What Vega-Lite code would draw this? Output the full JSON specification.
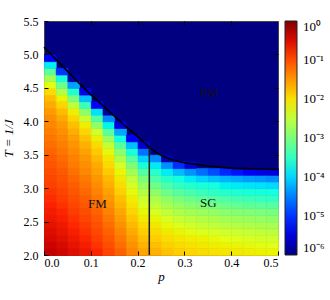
{
"$schema":"https://vega.github.io/schema/vega-lite/v6.json",
"width":234,"height":234,
"autosize":{"type":"none"},
"padding":{"left":44,"top":21,"right":52,"bottom":45},
"config":{"view":{"fill":"#000080","stroke":"#444","strokeWidth":1},"font":"Liberation Serif",
"axis":{"grid":false,"domain":false,"tickColor":"black","tickWidth":1,"labelColor":"black","labelFont":"Liberation Serif","labelFontSize":12,"titleFont":"Liberation Serif","titleFontSize":13,"titleFontStyle":"italic","titleFontWeight":"normal","titleColor":"black"}},
"layer":[
{"data":{"values":[
{"p":0,"t":2,"v":-0.36},{"p":0,"t":2.1,"v":-0.41},{"p":0,"t":2.2,"v":-0.47},{"p":0,"t":2.3,"v":-0.52},{"p":0,"t":2.4,"v":-0.57},{"p":0,"t":2.5,"v":-0.63},{"p":0,"t":2.6,"v":-0.68},{"p":0,"t":2.7,"v":-0.73},{"p":0,"t":2.8,"v":-0.79},{"p":0,"t":2.9,"v":-0.84},{"p":0,"t":3,"v":-0.9},{"p":0,"t":3.1,"v":-0.95},{"p":0,"t":3.2,"v":-1.0},{"p":0,"t":3.3,"v":-1.06},{"p":0,"t":3.4,"v":-1.11},{"p":0,"t":3.5,"v":-1.17},{"p":0,"t":3.6,"v":-1.22},{"p":0,"t":3.7,"v":-1.27},{"p":0,"t":3.8,"v":-1.33},{"p":0,"t":3.9,"v":-1.38},{"p":0,"t":4,"v":-1.43},{"p":0,"t":4.1,"v":-1.52},{"p":0,"t":4.2,"v":-1.62},{"p":0,"t":4.3,"v":-1.74},{"p":0,"t":4.4,"v":-1.94},{"p":0,"t":4.5,"v":-2.23},{"p":0,"t":4.6,"v":-2.7},{"p":0,"t":4.7,"v":-3.21},{"p":0,"t":4.8,"v":-3.86},{"p":0,"t":4.9,"v":-5.3},
{"p":0.025,"t":2,"v":-0.43},{"p":0.025,"t":2.1,"v":-0.48},{"p":0.025,"t":2.2,"v":-0.54},{"p":0.025,"t":2.3,"v":-0.6},{"p":0.025,"t":2.4,"v":-0.65},{"p":0.025,"t":2.5,"v":-0.71},{"p":0.025,"t":2.6,"v":-0.76},{"p":0.025,"t":2.7,"v":-0.82},{"p":0.025,"t":2.8,"v":-0.88},{"p":0.025,"t":2.9,"v":-0.93},{"p":0.025,"t":3,"v":-0.99},{"p":0.025,"t":3.1,"v":-1.04},{"p":0.025,"t":3.2,"v":-1.1},{"p":0.025,"t":3.3,"v":-1.16},{"p":0.025,"t":3.4,"v":-1.21},{"p":0.025,"t":3.5,"v":-1.27},{"p":0.025,"t":3.6,"v":-1.32},{"p":0.025,"t":3.7,"v":-1.38},{"p":0.025,"t":3.8,"v":-1.44},{"p":0.025,"t":3.9,"v":-1.51},{"p":0.025,"t":4,"v":-1.61},{"p":0.025,"t":4.1,"v":-1.73},{"p":0.025,"t":4.2,"v":-1.9},{"p":0.025,"t":4.3,"v":-2.16},{"p":0.025,"t":4.4,"v":-2.62},{"p":0.025,"t":4.5,"v":-3.09},{"p":0.025,"t":4.6,"v":-3.72},{"p":0.025,"t":4.7,"v":-5.0},
{"p":0.05,"t":2,"v":-0.53},{"p":0.05,"t":2.1,"v":-0.59},{"p":0.05,"t":2.2,"v":-0.65},{"p":0.05,"t":2.3,"v":-0.71},{"p":0.05,"t":2.4,"v":-0.77},{"p":0.05,"t":2.5,"v":-0.82},{"p":0.05,"t":2.6,"v":-0.88},{"p":0.05,"t":2.7,"v":-0.94},{"p":0.05,"t":2.8,"v":-1.0},{"p":0.05,"t":2.9,"v":-1.06},{"p":0.05,"t":3,"v":-1.12},{"p":0.05,"t":3.1,"v":-1.18},{"p":0.05,"t":3.2,"v":-1.24},{"p":0.05,"t":3.3,"v":-1.3},{"p":0.05,"t":3.4,"v":-1.35},{"p":0.05,"t":3.5,"v":-1.41},{"p":0.05,"t":3.6,"v":-1.47},{"p":0.05,"t":3.7,"v":-1.55},{"p":0.05,"t":3.8,"v":-1.64},{"p":0.05,"t":3.9,"v":-1.75},{"p":0.05,"t":4,"v":-1.9},{"p":0.05,"t":4.1,"v":-2.11},{"p":0.05,"t":4.2,"v":-2.53},{"p":0.05,"t":4.3,"v":-2.99},{"p":0.05,"t":4.4,"v":-3.6},{"p":0.05,"t":4.5,"v":-4.32},{"p":0.05,"t":4.6,"v":-5.8},
{"p":0.075,"t":2,"v":-0.63},{"p":0.075,"t":2.1,"v":-0.69},{"p":0.075,"t":2.2,"v":-0.76},{"p":0.075,"t":2.3,"v":-0.82},{"p":0.075,"t":2.4,"v":-0.88},{"p":0.075,"t":2.5,"v":-0.94},{"p":0.075,"t":2.6,"v":-1.0},{"p":0.075,"t":2.7,"v":-1.07},{"p":0.075,"t":2.8,"v":-1.13},{"p":0.075,"t":2.9,"v":-1.19},{"p":0.075,"t":3,"v":-1.25},{"p":0.075,"t":3.1,"v":-1.31},{"p":0.075,"t":3.2,"v":-1.38},{"p":0.075,"t":3.3,"v":-1.44},{"p":0.075,"t":3.4,"v":-1.5},{"p":0.075,"t":3.5,"v":-1.56},{"p":0.075,"t":3.6,"v":-1.66},{"p":0.075,"t":3.7,"v":-1.77},{"p":0.075,"t":3.8,"v":-1.9},{"p":0.075,"t":3.9,"v":-2.09},{"p":0.075,"t":4,"v":-2.43},{"p":0.075,"t":4.1,"v":-2.85},{"p":0.075,"t":4.2,"v":-3.45},{"p":0.075,"t":4.3,"v":-4.12},{"p":0.075,"t":4.4,"v":-5.42},
{"p":0.1,"t":2,"v":-0.76},{"p":0.1,"t":2.1,"v":-0.83},{"p":0.1,"t":2.2,"v":-0.9},{"p":0.1,"t":2.3,"v":-0.96},{"p":0.1,"t":2.4,"v":-1.03},{"p":0.1,"t":2.5,"v":-1.1},{"p":0.1,"t":2.6,"v":-1.16},{"p":0.1,"t":2.7,"v":-1.23},{"p":0.1,"t":2.8,"v":-1.29},{"p":0.1,"t":2.9,"v":-1.36},{"p":0.1,"t":3,"v":-1.42},{"p":0.1,"t":3.1,"v":-1.49},{"p":0.1,"t":3.2,"v":-1.56},{"p":0.1,"t":3.3,"v":-1.62},{"p":0.1,"t":3.4,"v":-1.72},{"p":0.1,"t":3.5,"v":-1.83},{"p":0.1,"t":3.6,"v":-1.94},{"p":0.1,"t":3.7,"v":-2.12},{"p":0.1,"t":3.8,"v":-2.39},{"p":0.1,"t":3.9,"v":-2.83},{"p":0.1,"t":4,"v":-3.28},{"p":0.1,"t":4.1,"v":-3.93},{"p":0.1,"t":4.2,"v":-5.3},
{"p":0.125,"t":2,"v":-0.94},{"p":0.125,"t":2.1,"v":-1.01},{"p":0.125,"t":2.2,"v":-1.08},{"p":0.125,"t":2.3,"v":-1.15},{"p":0.125,"t":2.4,"v":-1.22},{"p":0.125,"t":2.5,"v":-1.29},{"p":0.125,"t":2.6,"v":-1.36},{"p":0.125,"t":2.7,"v":-1.43},{"p":0.125,"t":2.8,"v":-1.5},{"p":0.125,"t":2.9,"v":-1.57},{"p":0.125,"t":3,"v":-1.65},{"p":0.125,"t":3.1,"v":-1.72},{"p":0.125,"t":3.2,"v":-1.83},{"p":0.125,"t":3.3,"v":-1.93},{"p":0.125,"t":3.4,"v":-2.04},{"p":0.125,"t":3.5,"v":-2.2},{"p":0.125,"t":3.6,"v":-2.47},{"p":0.125,"t":3.7,"v":-2.8},{"p":0.125,"t":3.8,"v":-3.24},{"p":0.125,"t":3.9,"v":-3.8},{"p":0.125,"t":4,"v":-4.46},{"p":0.125,"t":4.1,"v":-5.86},
{"p":0.15,"t":2,"v":-1.14},{"p":0.15,"t":2.1,"v":-1.22},{"p":0.15,"t":2.2,"v":-1.29},{"p":0.15,"t":2.3,"v":-1.37},{"p":0.15,"t":2.4,"v":-1.45},{"p":0.15,"t":2.5,"v":-1.52},{"p":0.15,"t":2.6,"v":-1.6},{"p":0.15,"t":2.7,"v":-1.68},{"p":0.15,"t":2.8,"v":-1.75},{"p":0.15,"t":2.9,"v":-1.86},{"p":0.15,"t":3,"v":-1.96},{"p":0.15,"t":3.1,"v":-2.06},{"p":0.15,"t":3.2,"v":-2.18},{"p":0.15,"t":3.3,"v":-2.34},{"p":0.15,"t":3.4,"v":-2.61},{"p":0.15,"t":3.5,"v":-2.88},{"p":0.15,"t":3.6,"v":-3.26},{"p":0.15,"t":3.7,"v":-3.74},{"p":0.15,"t":3.8,"v":-4.28},{"p":0.15,"t":3.9,"v":-5.5},
{"p":0.175,"t":2,"v":-1.37},{"p":0.175,"t":2.1,"v":-1.46},{"p":0.175,"t":2.2,"v":-1.54},{"p":0.175,"t":2.3,"v":-1.62},{"p":0.175,"t":2.4,"v":-1.71},{"p":0.175,"t":2.5,"v":-1.79},{"p":0.175,"t":2.6,"v":-1.9},{"p":0.175,"t":2.7,"v":-2.0},{"p":0.175,"t":2.8,"v":-2.1},{"p":0.175,"t":2.9,"v":-2.21},{"p":0.175,"t":3,"v":-2.33},{"p":0.175,"t":3.1,"v":-2.49},{"p":0.175,"t":3.2,"v":-2.71},{"p":0.175,"t":3.3,"v":-2.96},{"p":0.175,"t":3.4,"v":-3.26},{"p":0.175,"t":3.5,"v":-3.67},{"p":0.175,"t":3.6,"v":-4.14},{"p":0.175,"t":3.7,"v":-5.3},
{"p":0.2,"t":2,"v":-1.58},{"p":0.2,"t":2.1,"v":-1.67},{"p":0.2,"t":2.2,"v":-1.76},{"p":0.2,"t":2.3,"v":-1.85},{"p":0.2,"t":2.4,"v":-1.95},{"p":0.2,"t":2.5,"v":-2.07},{"p":0.2,"t":2.6,"v":-2.18},{"p":0.2,"t":2.7,"v":-2.3},{"p":0.2,"t":2.8,"v":-2.42},{"p":0.2,"t":2.9,"v":-2.58},{"p":0.2,"t":3,"v":-2.79},{"p":0.2,"t":3.1,"v":-3.0},{"p":0.2,"t":3.2,"v":-3.27},{"p":0.2,"t":3.3,"v":-3.65},{"p":0.2,"t":3.4,"v":-4.02},{"p":0.2,"t":3.5,"v":-4.59},{"p":0.2,"t":3.6,"v":-5.58},
{"p":0.225,"t":2,"v":-1.66},{"p":0.225,"t":2.1,"v":-1.75},{"p":0.225,"t":2.2,"v":-1.84},{"p":0.225,"t":2.3,"v":-1.94},{"p":0.225,"t":2.4,"v":-2.04},{"p":0.225,"t":2.5,"v":-2.17},{"p":0.225,"t":2.6,"v":-2.32},{"p":0.225,"t":2.7,"v":-2.49},{"p":0.225,"t":2.8,"v":-2.66},{"p":0.225,"t":2.9,"v":-2.86},{"p":0.225,"t":3,"v":-3.09},{"p":0.225,"t":3.1,"v":-3.34},{"p":0.225,"t":3.2,"v":-3.56},{"p":0.225,"t":3.3,"v":-3.87},{"p":0.225,"t":3.4,"v":-4.44},
{"p":0.25,"t":2,"v":-1.77},{"p":0.25,"t":2.1,"v":-1.86},{"p":0.25,"t":2.2,"v":-1.96},{"p":0.25,"t":2.3,"v":-2.06},{"p":0.25,"t":2.4,"v":-2.19},{"p":0.25,"t":2.5,"v":-2.33},{"p":0.25,"t":2.6,"v":-2.5},{"p":0.25,"t":2.7,"v":-2.67},{"p":0.25,"t":2.8,"v":-2.86},{"p":0.25,"t":2.9,"v":-3.1},{"p":0.25,"t":3,"v":-3.35},{"p":0.25,"t":3.1,"v":-3.57},{"p":0.25,"t":3.2,"v":-3.86},{"p":0.25,"t":3.3,"v":-4.43},{"p":0.25,"t":3.4,"v":-5.76},
{"p":0.275,"t":2,"v":-1.85},{"p":0.275,"t":2.1,"v":-1.94},{"p":0.275,"t":2.2,"v":-2.04},{"p":0.275,"t":2.3,"v":-2.16},{"p":0.275,"t":2.4,"v":-2.29},{"p":0.275,"t":2.5,"v":-2.46},{"p":0.275,"t":2.6,"v":-2.62},{"p":0.275,"t":2.7,"v":-2.79},{"p":0.275,"t":2.8,"v":-3.02},{"p":0.275,"t":2.9,"v":-3.26},{"p":0.275,"t":3,"v":-3.5},{"p":0.275,"t":3.1,"v":-3.74},{"p":0.275,"t":3.2,"v":-4.14},{"p":0.275,"t":3.3,"v":-5.06},
{"p":0.3,"t":2,"v":-1.9},{"p":0.3,"t":2.1,"v":-1.99},{"p":0.3,"t":2.2,"v":-2.09},{"p":0.3,"t":2.3,"v":-2.22},{"p":0.3,"t":2.4,"v":-2.36},{"p":0.3,"t":2.5,"v":-2.53},{"p":0.3,"t":2.6,"v":-2.7},{"p":0.3,"t":2.7,"v":-2.89},{"p":0.3,"t":2.8,"v":-3.12},{"p":0.3,"t":2.9,"v":-3.37},{"p":0.3,"t":3,"v":-3.59},{"p":0.3,"t":3.1,"v":-3.87},{"p":0.3,"t":3.2,"v":-4.39},{"p":0.3,"t":3.3,"v":-5.57},
{"p":0.325,"t":2,"v":-1.95},{"p":0.325,"t":2.1,"v":-2.05},{"p":0.325,"t":2.2,"v":-2.15},{"p":0.325,"t":2.3,"v":-2.28},{"p":0.325,"t":2.4,"v":-2.44},{"p":0.325,"t":2.5,"v":-2.6},{"p":0.325,"t":2.6,"v":-2.77},{"p":0.325,"t":2.7,"v":-2.97},{"p":0.325,"t":2.8,"v":-3.21},{"p":0.325,"t":2.9,"v":-3.46},{"p":0.325,"t":3,"v":-3.68},{"p":0.325,"t":3.1,"v":-4.01},{"p":0.325,"t":3.2,"v":-4.62},
{"p":0.35,"t":2,"v":-1.99},{"p":0.35,"t":2.1,"v":-2.09},{"p":0.35,"t":2.2,"v":-2.2},{"p":0.35,"t":2.3,"v":-2.33},{"p":0.35,"t":2.4,"v":-2.49},{"p":0.35,"t":2.5,"v":-2.66},{"p":0.35,"t":2.6,"v":-2.82},{"p":0.35,"t":2.7,"v":-3.04},{"p":0.35,"t":2.8,"v":-3.28},{"p":0.35,"t":2.9,"v":-3.52},{"p":0.35,"t":3,"v":-3.75},{"p":0.35,"t":3.1,"v":-4.11},{"p":0.35,"t":3.2,"v":-4.83},
{"p":0.375,"t":2,"v":-2.03},{"p":0.375,"t":2.1,"v":-2.13},{"p":0.375,"t":2.2,"v":-2.25},{"p":0.375,"t":2.3,"v":-2.38},{"p":0.375,"t":2.4,"v":-2.54},{"p":0.375,"t":2.5,"v":-2.71},{"p":0.375,"t":2.6,"v":-2.88},{"p":0.375,"t":2.7,"v":-3.1},{"p":0.375,"t":2.8,"v":-3.34},{"p":0.375,"t":2.9,"v":-3.59},{"p":0.375,"t":3,"v":-3.82},{"p":0.375,"t":3.1,"v":-4.21},{"p":0.375,"t":3.2,"v":-5.09},
{"p":0.4,"t":2,"v":-2.06},{"p":0.4,"t":2.1,"v":-2.16},{"p":0.4,"t":2.2,"v":-2.28},{"p":0.4,"t":2.3,"v":-2.41},{"p":0.4,"t":2.4,"v":-2.58},{"p":0.4,"t":2.5,"v":-2.74},{"p":0.4,"t":2.6,"v":-2.91},{"p":0.4,"t":2.7,"v":-3.15},{"p":0.4,"t":2.8,"v":-3.39},{"p":0.4,"t":2.9,"v":-3.62},{"p":0.4,"t":3,"v":-3.87},{"p":0.4,"t":3.1,"v":-4.27},{"p":0.4,"t":3.2,"v":-5.2},
{"p":0.425,"t":2,"v":-2.1},{"p":0.425,"t":2.1,"v":-2.2},{"p":0.425,"t":2.2,"v":-2.32},{"p":0.425,"t":2.3,"v":-2.45},{"p":0.425,"t":2.4,"v":-2.62},{"p":0.425,"t":2.5,"v":-2.78},{"p":0.425,"t":2.6,"v":-2.95},{"p":0.425,"t":2.7,"v":-3.19},{"p":0.425,"t":2.8,"v":-3.44},{"p":0.425,"t":2.9,"v":-3.66},{"p":0.425,"t":3,"v":-3.91},{"p":0.425,"t":3.1,"v":-4.34},{"p":0.425,"t":3.2,"v":-5.31},
{"p":0.45,"t":2,"v":-2.12},{"p":0.45,"t":2.1,"v":-2.23},{"p":0.45,"t":2.2,"v":-2.35},{"p":0.45,"t":2.3,"v":-2.48},{"p":0.45,"t":2.4,"v":-2.65},{"p":0.45,"t":2.5,"v":-2.81},{"p":0.45,"t":2.6,"v":-2.98},{"p":0.45,"t":2.7,"v":-3.22},{"p":0.45,"t":2.8,"v":-3.47},{"p":0.45,"t":2.9,"v":-3.69},{"p":0.45,"t":3,"v":-3.94},{"p":0.45,"t":3.1,"v":-4.38},{"p":0.45,"t":3.2,"v":-5.41},
{"p":0.475,"t":2,"v":-2.16},{"p":0.475,"t":2.1,"v":-2.26},{"p":0.475,"t":2.2,"v":-2.38},{"p":0.475,"t":2.3,"v":-2.52},{"p":0.475,"t":2.4,"v":-2.69},{"p":0.475,"t":2.5,"v":-2.85},{"p":0.475,"t":2.6,"v":-3.02},{"p":0.475,"t":2.7,"v":-3.26},{"p":0.475,"t":2.8,"v":-3.51},{"p":0.475,"t":2.9,"v":-3.73},{"p":0.475,"t":3,"v":-3.98},{"p":0.475,"t":3.1,"v":-4.44},{"p":0.475,"t":3.2,"v":-5.49}
]},
"mark":{"type":"rect","binSpacing":0,"stroke":{"expr":"scale('color', datum.v)"},"strokeWidth":0.7},
"encoding":{
"x":{"field":"p","type":"quantitative","bin":{"binned":true,"step":0.025},"scale":{"domain":[0,0.5],"nice":false,"zero":false},"axis":{"values":[0,0.1,0.2,0.3,0.4,0.5],"format":".1f","title":"p","tickSize":-4,"labelPadding":6,"titlePadding":2}},
"y":{"field":"t","type":"quantitative","bin":{"binned":true,"step":0.1},"scale":{"domain":[2,5.5],"nice":false,"zero":false},"axis":{"values":[2,2.5,3,3.5,4,4.5,5,5.5],"format":".1f","title":"T = 1/J","tickSize":-4,"labelPadding":10,"titlePadding":8}},
"color":{"field":"v","type":"quantitative","scale":{"type":"linear","domain":[-6,0],"range":["#000080","#0000C8","#0000FF","#0040FF","#0080FF","#00BFFF","#15FFE2","#48FFAF","#7BFF7B","#AFFF48","#E2FF15","#FFD200","#FF9700","#FF5C00","#FF2100","#C80000","#800000"]},
"legend":{"title":null,"orient":"right","offset":6,"type":"gradient","direction":"vertical","gradientLength":234,"gradientThickness":12,"gradientStrokeColor":"#222","gradientStrokeWidth":1,"values":[0,-1,-2,-3,-4,-5,-6],"labelExpr":"datum.value == 0 ? '10⁰' : '10⁻' + ['','¹','²','³','⁴','⁵','⁶'][-datum.value]","labelFont":"Liberation Serif","labelFontSize":13,"labelColor":"black","labelOffset":6,"labelOverlap":false}}
}},
{"data":{"values":[
{"p":0,"t":5.11},{"p":0.025,"t":4.93},{"p":0.05,"t":4.75},{"p":0.075,"t":4.57},{"p":0.1,"t":4.4},{"p":0.125,"t":4.24},{"p":0.15,"t":4.08},{"p":0.175,"t":3.92},{"p":0.2,"t":3.77},{"p":0.225,"t":3.61},{"p":0.25,"t":3.49},{"p":0.275,"t":3.42},{"p":0.3,"t":3.38},{"p":0.325,"t":3.355},{"p":0.35,"t":3.33},{"p":0.375,"t":3.315},{"p":0.4,"t":3.3},{"p":0.45,"t":3.29},{"p":0.5,"t":3.28}
]},
"mark":{"type":"line","color":"black","strokeWidth":1.6,"interpolate":"monotone"},
"encoding":{"x":{"field":"p","type":"quantitative","axis":null},"y":{"field":"t","type":"quantitative","axis":null}}},
{"data":{"values":[{"p":0.225,"t":2,"t2":3.61}]},
"mark":{"type":"rule","color":"#1a1a1a","strokeWidth":1.5},
"encoding":{"x":{"field":"p","type":"quantitative","axis":null},"y":{"field":"t","type":"quantitative","axis":null},"y2":{"field":"t2"}}},
{"data":{"values":[{"p":0.352,"t":4.43,"label":"PM"},{"p":0.114,"t":2.77,"label":"FM"},{"p":0.351,"t":2.78,"label":"SG"}]},
"mark":{"type":"text","font":"Liberation Serif","fontSize":13,"color":"#111"},
"encoding":{
"x":{"field":"p","type":"quantitative","axis":{"orient":"top","labels":false,"title":null,"values":[0.1,0.2,0.3,0.4],"tickSize":-4}},
"y":{"field":"t","type":"quantitative","axis":{"orient":"right","labels":false,"title":null,"values":[2.5,3,3.5,4,4.5,5],"tickSize":-4}},
"text":{"field":"label"}}}
],
"resolve":{"axis":{"x":"independent","y":"independent"}}
}
